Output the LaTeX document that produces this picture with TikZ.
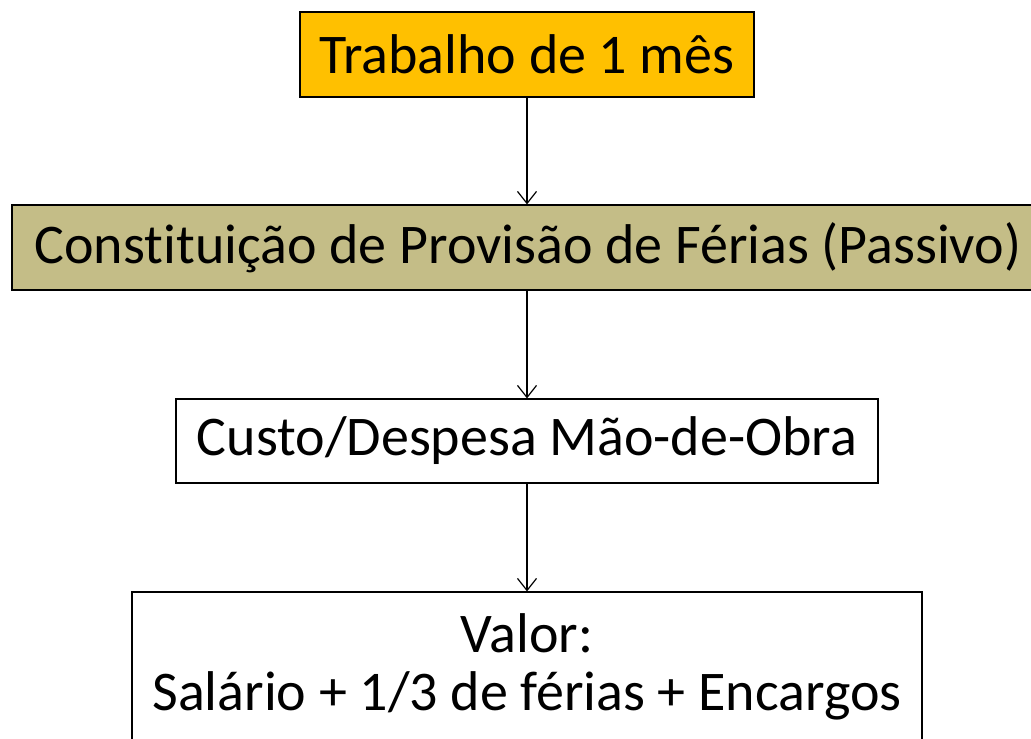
\documentclass[tikz,border=0pt]{standalone}
\usepackage{fontspec}
\setmainfont{Carlito}[Ligatures={NoCommon}]
\usetikzlibrary{arrows.meta}
\definecolor{orangebox}{HTML}{FFC000}
\definecolor{khakibox}{HTML}{C4BD87}
\tikzset{
  flowbox/.style={draw=black, line width=1.2bp, rectangle, inner sep=0pt, align=center,
    font=\fontsize{56bp}{60bp}\selectfont},
  flowarrow/.style={draw=black, line width=1.2bp, -{Straight Barb[length=12bp,width=19bp,line width=1.2bp]}}
}
\begin{document}
\begin{tikzpicture}[x=1bp,y=-1bp]
\useasboundingbox (0,0) rectangle (1031,739);
\clip (0,0) rectangle (1031,739);
\fill[white] (0,0) rectangle (1031,739);
\node[flowbox, fill=orangebox, minimum width=454bp, minimum height=85bp] (b1) at (527,54.5) {Trabalho de 1 mês};
\node[flowbox, fill=khakibox, minimum width=1032bp, minimum height=85bp] (b2) at (528,247.5) {Constituição de Provisão de Férias (Passivo)};
\node[flowbox, fill=white, minimum width=702bp, minimum height=84bp] (b3) at (527,441) {Custo/Despesa Mão-de-Obra};
\node[flowbox, fill=white, minimum width=790bp, minimum height=168bp] (b4) at (527,676) {};
\node[align=center, inner sep=0pt, font=\fontsize{56bp}{58bp}\selectfont, anchor=base] (t4) at (527,710) {Valor:\\Salário + 1/3 de férias + Encargos};
\draw[flowarrow] (b1.south) -- (b2.north -| b1.south);
\draw[flowarrow] (b2.south -| b1.south) -- (b3.north);
\draw[flowarrow] (b3.south) -- (b4.north);
\end{tikzpicture}
\end{document}
